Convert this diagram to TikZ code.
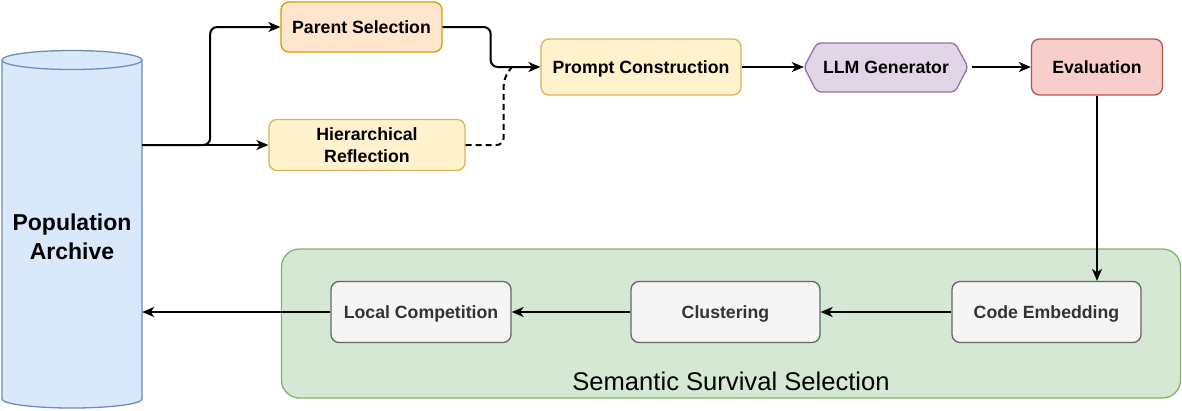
\documentclass[tikz,border=0pt]{standalone}
\usepackage{fontspec}
\setmainfont{Liberation Sans}
\usetikzlibrary{arrows.meta,calc}
\definecolor{bluefill}{HTML}{DAE8FC}\definecolor{bluedraw}{HTML}{6C8EBF}
\definecolor{orfill}{HTML}{FFE6CC}\definecolor{ordraw}{HTML}{D79B00}
\definecolor{yefill}{HTML}{FFF2CC}\definecolor{yedraw}{HTML}{D6B656}
\definecolor{pufill}{HTML}{E1D5E7}\definecolor{pudraw}{HTML}{9673A6}
\definecolor{refill}{HTML}{F8CECC}\definecolor{redraw}{HTML}{B85450}
\definecolor{grfill}{HTML}{D5E8D4}\definecolor{grdraw}{HTML}{82B366}
\definecolor{gyfill}{HTML}{F5F5F5}\definecolor{gydraw}{HTML}{666666}
\definecolor{gytext}{HTML}{333333}
\tikzset{
  box/.style={rectangle, rounded corners=8pt, line width=1.3pt, inner sep=0pt, align=center,
    font=\fontsize{17.7}{22}\selectfont\bfseries},
  oneline/.style={text height=15.9pt, text depth=3.7pt},
  orbox/.style={box, oneline, fill=orfill, draw=ordraw},
  yebox/.style={box, fill=yefill, draw=yedraw},
  rebox/.style={box, oneline, fill=refill, draw=redraw},
  gybox/.style={box, oneline, fill=gyfill, draw=gydraw, text=gytext},
  conn/.style={line width=2pt, rounded corners=7pt, -{Stealth[length=12pt,width=10pt,inset=3.5pt]}},
}
\begin{document}
\begin{tikzpicture}[x=1pt,y=-1pt]
\useasboundingbox (0,0) rectangle (1182,410);
% cylinder
\fill[bluefill] (2,60) -- (2,399) arc[start angle=180,end angle=360,x radius=70pt,y radius=9pt] -- (142,60) -- cycle;
\draw[bluedraw, line width=1.3pt] (2,60) -- (2,399) arc[start angle=180,end angle=360,x radius=70pt,y radius=9pt] -- (142,60);
\draw[bluedraw, fill=bluefill, line width=1.3pt] (72,60) ellipse[x radius=70pt, y radius=9.5pt];
\node[minimum width=140pt, minimum height=340pt, inner sep=0pt, align=center,
  font=\fontsize{23}{29}\selectfont\bfseries] (archive) at (72,237) {Population\\Archive};

% container
\node[rectangle, rounded corners=18pt, fill=grfill, draw=grdraw, line width=1.3pt,
  minimum width=899pt, minimum height=149pt, inner sep=0pt] (group) at (731,323.5) {};
\node[font=\fontsize{25.6}{30}\selectfont, inner sep=0pt] (grouplabel) at (731,381) {Semantic Survival Selection};

% top row
\node[orbox, minimum width=161pt, minimum height=50pt] (parent) at (361.5,27) {Parent Selection};
\node[yebox, minimum width=196pt, minimum height=51pt] (hier) at (367,145) {Hierarchical\\Reflection};
\node[yebox, oneline, minimum width=200pt, minimum height=56pt] (prompt) at (641,67) {Prompt Construction};
\draw[pudraw, fill=pufill, line width=1.3pt, rounded corners=4pt]
  (804,67) -- (817,43) -- (955,43) -- (968,67) -- (955,92) -- (817,92) -- cycle;
\node[minimum width=164pt, minimum height=49pt, inner sep=0pt, oneline,
  font=\fontsize{17.7}{22}\selectfont\bfseries] (llm) at (886,67) {LLM Generator};
\node[rebox, minimum width=131pt, minimum height=56pt] (eval) at (1097,67) {Evaluation};

% bottom row
\node[gybox, minimum width=180pt, minimum height=61pt] (local) at (421,312) {Local Competition};
\node[gybox, minimum width=189pt, minimum height=61pt] (clust) at (725.5,312) {Clustering};
\node[gybox, minimum width=189pt, minimum height=61pt] (code) at (1046.5,312) {Code Embedding};

% connectors
\coordinate (split) at (archive.east |- hier.west);
\draw[conn] (split) -- ++(68,0) |- (parent.west);
\draw[conn] (split) -- (hier.west);
\draw[conn] (parent.east) -- ++(48,0) |- (prompt.west);
\draw[line width=2pt, rounded corners=7pt, dash pattern=on 6pt off 4pt]
  (hier.east) -- ++(38,0) -- ($(hier.east)+(38,-66)$) -- ($(hier.east)+(46,-78)$);
\draw[conn] (prompt.east) -- (llm.west);
\draw[conn] ($(llm.east)+(4,0)$) -- (eval.west);
\draw[conn] (eval.south) -- (code.north -| eval.south);
\draw[conn] (code.west) -- (clust.east);
\draw[conn] (clust.west) -- (local.east);
\draw[conn] (local.west) -- (archive.east |- local.west);
\end{tikzpicture}
\end{document}
